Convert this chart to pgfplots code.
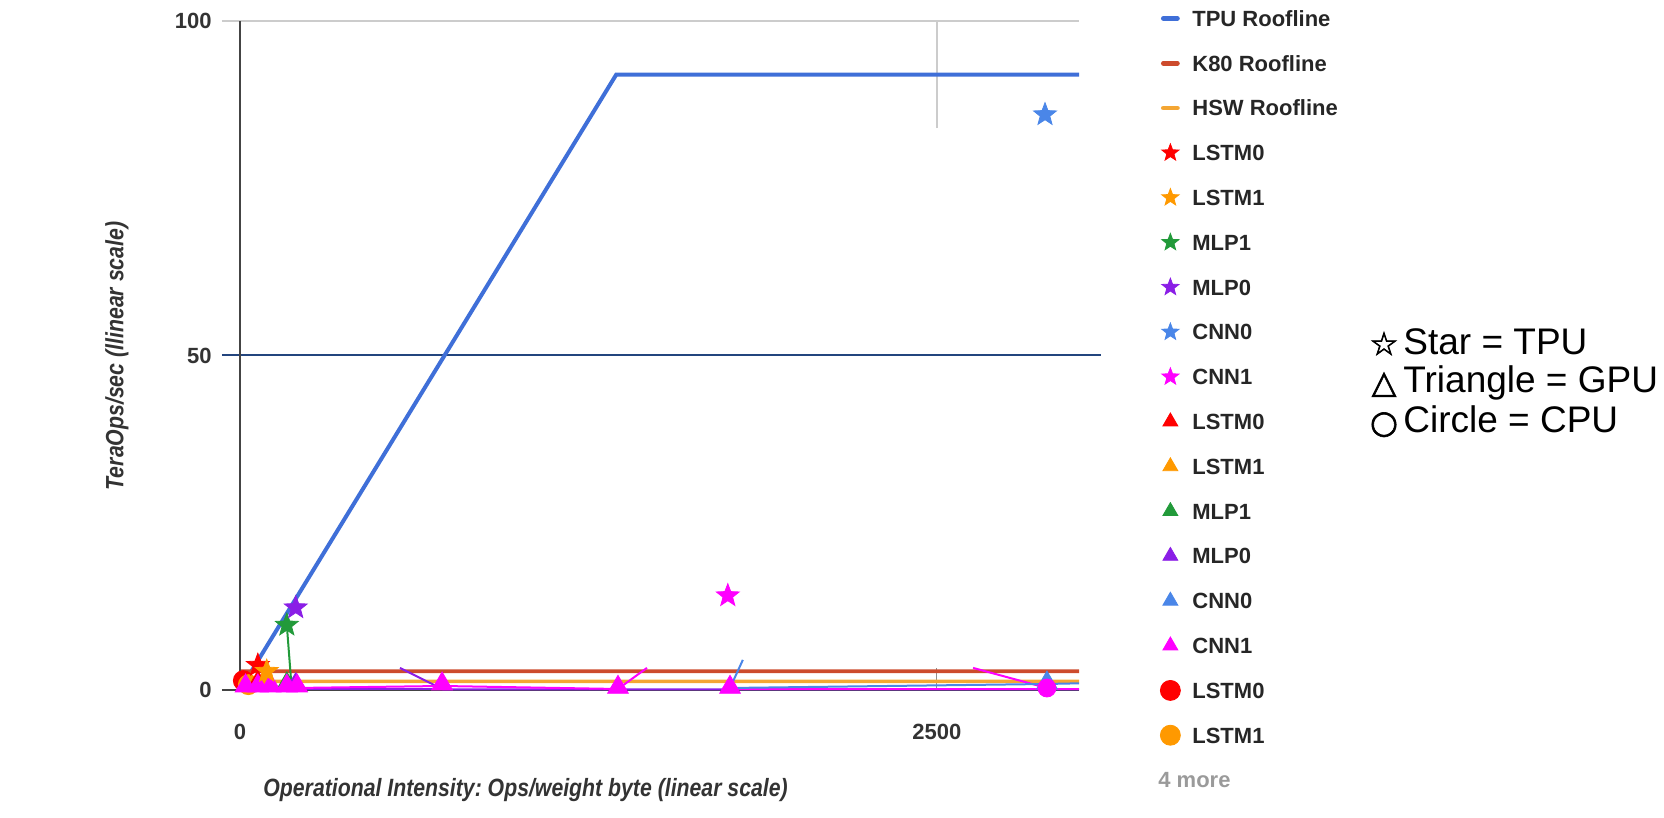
\documentclass[border=0pt]{standalone}
\usepackage{pgfplots}
\pgfplotsset{compat=1.18}
\usepackage{fontspec}
\setmainfont{Liberation Sans}
\newfontfamily\condfont[FakeStretch=0.85]{Liberation Sans}
\newfontfamily\symfont[FakeBold=2]{DejaVu Sans}
\frenchspacing

\definecolor{tpublue}{HTML}{3F6FD8}
\definecolor{k80red}{HTML}{CD4B2D}
\definecolor{hswor}{HTML}{F4A633}
\definecolor{lstmzero}{HTML}{FF0000}
\definecolor{lstmone}{HTML}{FF9900}
\definecolor{mlpone}{HTML}{229A3A}
\definecolor{mlpzero}{HTML}{8A1EE6}
\definecolor{cnnzero}{HTML}{4A86E8}
\definecolor{cnnone}{HTML}{FF00FF}
\definecolor{gridgray}{HTML}{CCCCCC}
\definecolor{navyfifty}{HTML}{23457E}
\definecolor{axisdark}{HTML}{444444}
\definecolor{ticktext}{HTML}{333333}
\definecolor{legtext}{HTML}{262626}
\definecolor{moretext}{HTML}{9A9A9A}

\pgfdeclareplotmark{fstar}{%
  \pgfpathmoveto{\pgfpointpolar{90}{\pgfplotmarksize}}%
  \pgfpathlineto{\pgfpointpolar{126}{0.42\pgfplotmarksize}}%
  \pgfpathlineto{\pgfpointpolar{162}{\pgfplotmarksize}}%
  \pgfpathlineto{\pgfpointpolar{198}{0.42\pgfplotmarksize}}%
  \pgfpathlineto{\pgfpointpolar{234}{\pgfplotmarksize}}%
  \pgfpathlineto{\pgfpointpolar{270}{0.42\pgfplotmarksize}}%
  \pgfpathlineto{\pgfpointpolar{306}{\pgfplotmarksize}}%
  \pgfpathlineto{\pgfpointpolar{342}{0.42\pgfplotmarksize}}%
  \pgfpathlineto{\pgfpointpolar{18}{\pgfplotmarksize}}%
  \pgfpathlineto{\pgfpointpolar{54}{0.42\pgfplotmarksize}}%
  \pgfpathclose
  \pgfusepathqfillstroke
}

\pgfplotsset{
  lineleg/.style={legend image code/.code={%
     \path[draw=none, fill=none] (0.3cm-5pt,-5pt) rectangle (0.3cm+5pt,5pt);
     \draw[##1, line width=2.4pt, line cap=round] (0.3cm-3.5pt,0cm) -- (0.3cm+3.5pt,0cm);}},
  markleg/.style={legend image code/.code={%
     \path[draw=none, fill=none] (0.3cm-5pt,-5pt) rectangle (0.3cm+5pt,5pt);
     \draw[mark repeat=1, mark phase=1, ##1] plot coordinates {(0.3cm,0cm)};}},
  emptyleg/.style={legend image code/.code={%
     \path[draw=none, fill=none] (0.3cm-5pt,-5pt) rectangle (0.3cm+5pt,5pt);}},
}

\begin{document}
\begin{tikzpicture}
\path[use as bounding box] (0,0) rectangle (832pt,409pt);
\begin{axis}[
  at={(120pt,64pt)}, anchor=south west, scale only axis,
  width=419.5pt, height=334.5pt,
  xmin=0, xmax=3010, ymin=0, ymax=100,
  clip=false,
  axis line style={draw=none},
  major tick length=0pt,
  xtick={0,2500}, xticklabels={0,2500},
  ytick={0,50,100}, yticklabels={0,50,100},
  tick label style={font=\bfseries\fontsize{11}{13}\selectfont, text=ticktext},
  xticklabel style={anchor=center, inner sep=0pt, yshift=-21pt},
  yticklabel style={anchor=east, inner sep=0pt, xshift=-14pt},
  legend style={at={(axis description cs:1.0965,1.0194)}, anchor=north west,
     draw=none, fill=none, inner sep=0pt, row sep=12.4pt, column sep=6pt,
     font=\bfseries\fontsize{11}{13}\selectfont, text=legtext,
     nodes={inner sep=0pt, text height=7.9pt, text depth=0pt}},
  legend cell align=left,
]
% grid and axis lines
\draw[gridgray, line width=0.8pt] (axis cs:-65,100) -- (axis cs:3010,100);
\draw[navyfifty, line width=1pt] (axis cs:-65,50) -- (axis cs:3088,50);
\draw[gridgray, line width=0.8pt] (axis cs:2500,84) -- (axis cs:2500,100);
\draw[gridgray!70!black, line width=0.5pt] (axis cs:2500,0) -- (axis cs:2500,3.3);
\draw[axisdark, line width=0.8pt] (axis cs:0,0) -- (axis cs:0,100);
\draw[axisdark, line width=0.8pt] (axis cs:-65,0) -- (axis cs:3010,0);

% rooflines
\addplot[forget plot, tpublue, line width=2pt] coordinates {(0,0) (1350,92) (3010,92)};
\addplot[forget plot, k80red, line width=1.8pt] coordinates {(0,0) (9.6,2.8) (3010,2.8)};
\addplot[forget plot, hswor, line width=1.8pt] coordinates {(0,0) (13,1.3) (3010,1.3)};

% visible connecting segments
\addplot[forget plot, mlpzero, line width=1pt] coordinates {(574,3.3) (728,0.1) (3010,0.1)};
\addplot[forget plot, mlpzero, line width=1pt] coordinates {(0,0.1) (728,0.1)};
\addplot[forget plot, cnnone, line width=1pt] coordinates {(0,0.3) (200,0.3) (725,0.6) (1356,0.15) (1460,3.3)};
\addplot[forget plot, cnnone, line width=1pt] coordinates {(2630,3.3) (2895,0.3)};
\addplot[forget plot, cnnone, line width=1pt] coordinates {(1758,0.2) (3010,0.2)};
\addplot[forget plot, cnnzero, line width=1pt] coordinates {(1758,0.3) (1804,4.5)};
\addplot[forget plot, cnnzero, line width=1pt] coordinates {(1758,0.3) (2895,0.9) (3010,1.0)};
\addplot[forget plot, mlpone, line width=1pt] coordinates {(168,9.7) (185,0.5)};

% CPU circles
\addplot[forget plot, only marks, mark=*, mark size=5pt, color=lstmzero] coordinates {(12,1.4)};
\addplot[forget plot, only marks, mark=*, mark size=5pt, color=lstmone] coordinates {(30,0.8)};
% GPU triangles
\addplot[forget plot, only marks, mark=triangle*, mark size=6pt, color=lstmzero] coordinates {(64,1.1)};
\addplot[forget plot, only marks, mark=triangle*, mark size=6pt, color=lstmone] coordinates {(96,0.9)};
\addplot[forget plot, only marks, mark=triangle*, mark size=6pt, color=mlpone] coordinates {(168,0.9)};
\addplot[forget plot, only marks, mark=triangle*, mark size=6pt, color=mlpzero] coordinates {(200,0.8)};
\addplot[forget plot, only marks, mark=triangle*, mark size=6pt, color=cnnzero] coordinates {(2895,1.05)};
\addplot[forget plot, only marks, mark=triangle*, mark size=6pt, color=cnnone] coordinates {(20,0.6) (64,0.6) (110,0.6) (168,0.6) (205,0.6) (725,0.9) (1356,0.4) (1758,0.4)};
\addplot[forget plot, only marks, mark=*, mark size=4.5pt, color=cnnone] coordinates {(2895,0.3)};
% TPU stars
\addplot[forget plot, only marks, mark=fstar, mark size=6pt, color=lstmzero] coordinates {(64,3.7)};
\addplot[forget plot, only marks, mark=fstar, mark size=6pt, color=lstmone] coordinates {(96,2.8)};
\addplot[forget plot, only marks, mark=fstar, mark size=6pt, color=mlpone] coordinates {(168,9.7)};
\addplot[forget plot, only marks, mark=fstar, mark size=6pt, color=mlpzero] coordinates {(200,12.3)};
\addplot[forget plot, only marks, mark=fstar, mark size=6pt, color=cnnzero] coordinates {(2888,86.0)};
\addplot[forget plot, only marks, mark=fstar, mark size=6pt, color=cnnone] coordinates {(1750,14.1)};

% legend
\addlegendimage{lineleg, color=tpublue}\addlegendentry{TPU Roofline}
\addlegendimage{lineleg, color=k80red}\addlegendentry{K80 Roofline}
\addlegendimage{lineleg, color=hswor}\addlegendentry{HSW Roofline}
\addlegendimage{markleg, only marks, mark=fstar, mark size=4.5pt, color=lstmzero}\addlegendentry{LSTM0}
\addlegendimage{markleg, only marks, mark=fstar, mark size=4.5pt, color=lstmone}\addlegendentry{LSTM1}
\addlegendimage{markleg, only marks, mark=fstar, mark size=4.5pt, color=mlpone}\addlegendentry{MLP1}
\addlegendimage{markleg, only marks, mark=fstar, mark size=4.5pt, color=mlpzero}\addlegendentry{MLP0}
\addlegendimage{markleg, only marks, mark=fstar, mark size=4.5pt, color=cnnzero}\addlegendentry{CNN0}
\addlegendimage{markleg, only marks, mark=fstar, mark size=4.5pt, color=cnnone}\addlegendentry{CNN1}
\addlegendimage{markleg, only marks, mark=triangle*, mark size=4.3pt, color=lstmzero}\addlegendentry{LSTM0}
\addlegendimage{markleg, only marks, mark=triangle*, mark size=4.3pt, color=lstmone}\addlegendentry{LSTM1}
\addlegendimage{markleg, only marks, mark=triangle*, mark size=4.3pt, color=mlpone}\addlegendentry{MLP1}
\addlegendimage{markleg, only marks, mark=triangle*, mark size=4.3pt, color=mlpzero}\addlegendentry{MLP0}
\addlegendimage{markleg, only marks, mark=triangle*, mark size=4.3pt, color=cnnzero}\addlegendentry{CNN0}
\addlegendimage{markleg, only marks, mark=triangle*, mark size=4.3pt, color=cnnone}\addlegendentry{CNN1}
\addlegendimage{markleg, only marks, mark=*, mark size=5pt, color=lstmzero}\addlegendentry{LSTM0}
\addlegendimage{markleg, only marks, mark=*, mark size=5pt, color=lstmone}\addlegendentry{LSTM1}
\addlegendimage{emptyleg}\addlegendentry{\hspace*{-17pt}\textcolor{moretext}{4 more}}
\end{axis}

% axis titles
\node[rotate=90, anchor=center, inner sep=0pt, text=ticktext,
      font=\condfont\bfseries\itshape\fontsize{12.5}{15}\selectfont] at (58.5pt,231pt) {TeraOps/sec (llinear scale)};
\node[anchor=west, inner sep=0pt, text=ticktext,
      font=\condfont\bfseries\itshape\fontsize{12.5}{15}\selectfont] at (131.5pt,14pt) {Operational Intensity: Ops/weight byte (linear scale)};

% key annotation
\node[anchor=base, inner sep=0pt, font=\symfont\fontsize{16}{18}\selectfont] at (692pt,231.5pt) {☆};
\node[anchor=base, inner sep=0pt, font=\symfont\fontsize{16}{18}\selectfont] at (692pt,212.5pt) {△};
\node[anchor=base, inner sep=0pt, font=\symfont\fontsize{16}{18}\selectfont] at (692pt,192.5pt) {○};
\node[anchor=base west, inner sep=0pt, font=\fontsize{18.5}{22}\selectfont] at (701.5pt,231.5pt) {Star = TPU};
\node[anchor=base west, inner sep=0pt, font=\fontsize{18.5}{22}\selectfont] at (701.5pt,212.5pt) {Triangle = GPU};
\node[anchor=base west, inner sep=0pt, font=\fontsize{18.5}{22}\selectfont] at (701.5pt,192.5pt) {Circle = CPU};
\end{tikzpicture}
\end{document}
